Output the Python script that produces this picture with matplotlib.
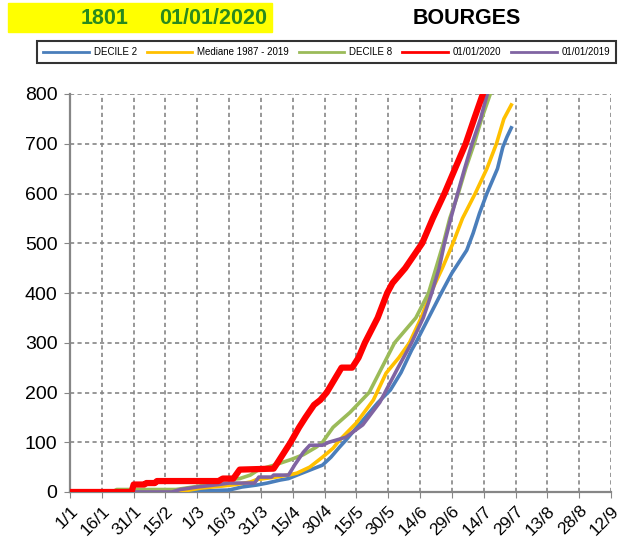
import matplotlib
matplotlib.use("Agg")
import matplotlib.pyplot as plt
from matplotlib.patches import Rectangle

plt.rcParams["font.family"] = ["Liberation Sans", "DejaVu Sans"]

# day index from 1/1 (2020 calendar) and cumulative value
tick_labels = ["1/1", "16/1", "31/1", "15/2", "1/3", "16/3", "31/3", "15/4", "30/4",
               "15/5", "30/5", "14/6", "29/6", "14/7", "29/7", "13/8", "28/8", "12/9"]
tick_days = [15 * i for i in range(len(tick_labels))]

decile2_days = [0, 55, 60, 75, 81, 88, 93, 99, 103, 107, 113, 119, 123, 127, 130, 137, 145,
                151, 156, 161, 163, 169, 175, 180, 187, 190, 193, 196.5, 201.5, 204, 206, 208]
decile2_vals = [0, 0, 2, 4, 10, 14, 18, 24, 27, 34, 44, 54, 70, 90, 104, 139, 179,
                205, 240, 285, 300, 350, 400, 440, 486, 520, 560, 600, 650, 693, 714, 732]

median_days = [0, 50, 55, 62, 72, 78, 85, 88, 97, 104, 107, 113, 119, 124, 127, 135, 143,
               149, 155, 160, 165.5, 170, 175.5, 180.5, 185, 191, 196.5, 201, 204.5, 208]
median_vals = [0, 0, 3, 8, 12, 15, 20, 25, 30, 35, 38, 50, 70, 88, 104, 139, 185,
               239, 270, 300, 350, 400, 450, 500, 550, 600, 650, 700, 750, 778]

decile8_days = [0, 20, 22, 50, 58, 67, 72, 80, 85, 89, 97, 104, 110, 116, 119, 124, 132,
                141, 147, 153, 163, 169, 172.5, 176, 179, 183, 186.5, 190.5, 194, 198.5]
decile8_vals = [0, 0, 5, 5, 10, 16, 24, 27, 34, 45, 55, 65, 75, 90, 100, 130, 160,
                200, 250, 300, 350, 400, 450, 500, 550, 600, 650, 700, 750, 805]

y2020_days = [0, 29, 30, 35, 36, 40, 41, 70, 72, 77, 78, 80, 96, 98, 101, 104, 108, 111,
              115, 118, 121, 128, 133, 136, 139, 145, 149.5, 152, 158, 166, 171, 176.5,
              181.5, 186.5, 190.5, 195]
y2020_vals = [0, 0, 15, 15, 18, 18, 22, 22, 27, 27, 33, 45, 47, 60, 80, 100, 130, 150,
              175, 185, 200, 250, 250, 270, 300, 350, 400, 420, 450, 500, 550, 600,
              650, 700, 750, 805]

y2019_days = [0, 48, 52, 60, 70, 75, 87, 89, 95, 96, 103, 106, 110, 113, 119, 122, 130,
              138, 146, 154, 161, 166.5, 170.5, 174, 176.5, 179.5, 182.7, 186, 189.5,
              193.5, 197]
y2019_vals = [0, 0, 5, 10, 15, 18, 18, 30, 30, 34, 34, 55, 80, 94, 94, 100, 110,
              135, 180, 245, 300, 350, 400, 450, 500, 550, 600, 650, 700, 750, 805]

fig = plt.figure(figsize=(6.21, 5.51), dpi=100)
ax = fig.add_axes([70 / 621, 1 - 492 / 551, 541 / 621, 398 / 551])

ax.plot(decile2_days, decile2_vals, color="#4A7EBB", lw=2.6, label="DECILE 2", zorder=3)
ax.plot(median_days, median_vals, color="#FFC000", lw=2.6, label="Mediane 1987 - 2019", zorder=3)
ax.plot(decile8_days, decile8_vals, color="#9BBB59", lw=2.6, label="DECILE 8", zorder=3)
ax.plot(y2020_days, y2020_vals, color="#FF0000", lw=4.5, label="01/01/2020", zorder=5)
ax.plot(y2019_days, y2019_vals, color="#8064A2", lw=2.6, label="01/01/2019", zorder=4)

ax.set_xlim(0, 255)
ax.set_ylim(0, 800)
ax.set_xticks(tick_days)
ax.set_xticklabels(tick_labels, rotation=45, ha="right", rotation_mode="anchor", fontsize=12.5)
ax.set_yticks(range(0, 801, 100))
ax.tick_params(axis="y", labelsize=14, length=4, color="#868686", pad=5)
ax.tick_params(axis="x", length=4, color="#868686", pad=4)
ax.grid(True, color="#868686", lw=1.2, linestyle=(0, (2.5, 2)))
ax.set_axisbelow(True)
for side in ("top", "right"):
    ax.spines[side].set_visible(False)
for side in ("left", "bottom"):
    ax.spines[side].set_color("#868686")
    ax.spines[side].set_linewidth(1.6)

leg = ax.legend(loc="center", bbox_to_anchor=(0.526, 0.9056), bbox_transform=fig.transFigure,
                ncol=5, fontsize=7, handlelength=4.7, handletextpad=0.5, columnspacing=1.0,
                fancybox=False, frameon=True, borderpad=0.6, borderaxespad=0)
leg.get_frame().set_edgecolor("black")
leg.get_frame().set_linewidth(1.5)
for line in leg.get_lines():
    line.set_linewidth(2)

# header
fig.add_artist(Rectangle((8 / 621, 1 - 32 / 551), 264 / 621, 29 / 551,
                         transform=fig.transFigure, color="#FFFF00", zorder=0))
head_font = ["Liberation Sans Narrow", "Liberation Sans"]
fig.text(105 / 621, 1 - 18 / 551, "1801", color="#2A8A1E", fontsize=15.5,
         fontweight="bold", ha="center", va="center", family=head_font)
fig.text(213 / 621, 1 - 18 / 551, "01/01/2020", color="#2A8A1E", fontsize=15.5,
         fontweight="bold", ha="center", va="center", family=head_font)
fig.text(467 / 621, 1 - 18 / 551, "BOURGES", color="black", fontsize=15.5,
         fontweight="bold", ha="center", va="center", family=head_font)

fig.savefig("out.png", dpi=100)
